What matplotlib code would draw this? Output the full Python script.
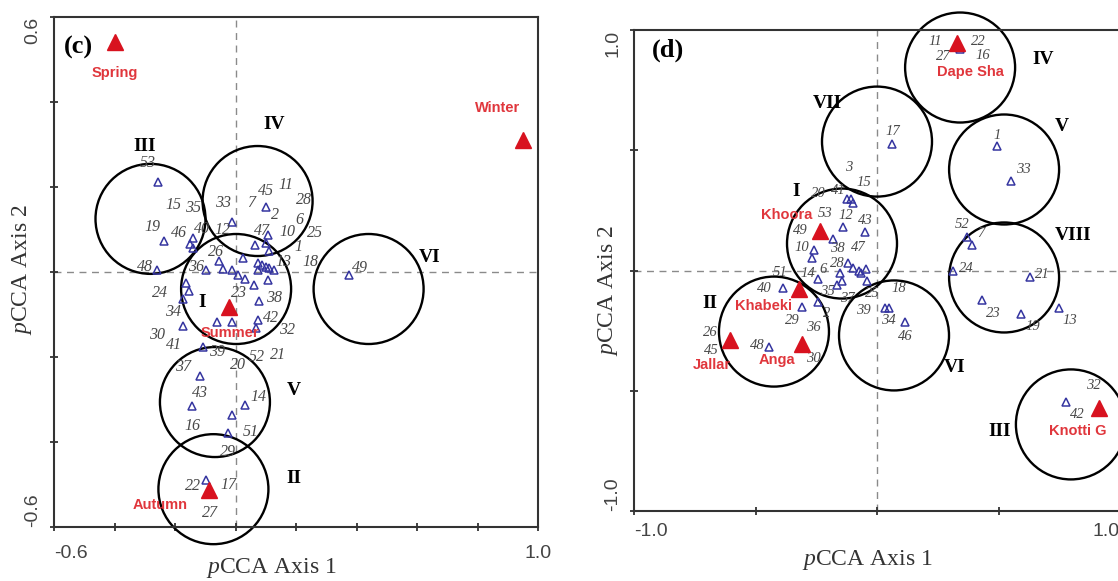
import numpy as np
import matplotlib
matplotlib.use("Agg")
import matplotlib.pyplot as plt
from matplotlib.patches import Ellipse

plt.rcParams['font.family'] = 'Liberation Serif'
plt.rcParams['mathtext.fontset'] = 'custom'
plt.rcParams['mathtext.rm'] = 'Liberation Serif'
plt.rcParams['mathtext.it'] = 'Liberation Serif:italic'

# ---------------- panel (c): seasons ----------------
c_site_x = [-0.255, -0.013, 0.102, -0.238, -0.142, -0.149, -0.139, 0.106, 0.102, 0.112,
            0.063, -0.258, -0.099, -0.053, -0.040, -0.013, 0.007, 0.026, 0.030, 0.073,
            0.076, 0.089, 0.102, 0.112, 0.126, 0.060, 0.109, 0.079, -0.162, -0.155,
            -0.172, -0.172, -0.060, -0.010, 0.076, 0.069, -0.106, -0.119, -0.145, 0.033,
            -0.010, -0.026, -0.096, 0.374]
c_site_y = [0.212, 0.118, 0.153, 0.073, 0.080, 0.066, 0.056, 0.087, 0.068, 0.049,
            0.064, 0.005, 0.005, 0.026, 0.007, 0.005, -0.007, 0.033, -0.016, 0.021,
            0.005, 0.016, 0.012, 0.009, 0.005, -0.031, -0.019, -0.068, -0.026, -0.045,
            -0.064, -0.127, -0.118, -0.118, -0.113, -0.132, -0.176, -0.245, -0.315, -0.313,
            -0.336, -0.379, -0.489, -0.007]

c_num = ['53', '15', '35', '19', '46', '40', '33', '7', '45', '11', '28', '2', '12', '13',
         '6', '10', '25', '47', '1', '18', '26', '36', '48', '24', '34', '30', '41', '23',
         '38', '42', '32', '39', '20', '52', '21', '37', '43', '14', '16', '51', '29', '22',
         '17', '27', '49']
c_num_x = [-0.291, -0.205, -0.139, -0.274, -0.188, -0.112, -0.040, 0.053, 0.102, 0.165,
           0.225, 0.129, -0.043, 0.159, 0.212, 0.172, 0.264, 0.086, 0.208, 0.248,
           -0.066, -0.132, -0.298, -0.251, -0.208, -0.258, -0.205, 0.010, 0.126, 0.116,
           0.172, -0.060, 0.007, 0.069, 0.139, -0.172, -0.119, 0.076, -0.142, 0.050,
           -0.026, -0.142, -0.023, -0.083, 0.413]
c_num_y = [0.256, 0.158, 0.151, 0.106, 0.092, 0.101, 0.162, 0.162, 0.191, 0.205,
           0.169, 0.134, 0.099, 0.024, 0.122, 0.094, 0.092, 0.096, 0.059, 0.024,
           0.047, 0.012, 0.012, -0.049, -0.094, -0.148, -0.172, -0.049, -0.061, -0.108,
           -0.136, -0.188, -0.219, -0.200, -0.195, -0.224, -0.285, -0.294, -0.362, -0.376,
           -0.424, -0.504, -0.501, -0.567, 0.009]

c_env = ['Spring', 'Winter', 'Summer', 'Autumn']
c_env_x = [-0.400, 0.952, -0.020, -0.086]
c_env_y = [0.541, 0.311, -0.082, -0.513]
c_env_lx = [-0.400, 0.866, -0.017, -0.248]
c_env_ly = [0.468, 0.386, -0.144, -0.548]

c_groups = ['I', 'II', 'III', 'IV', 'V', 'VI']
c_circle_x = [0.002, -0.073, -0.281, 0.073, -0.068, 0.440]
c_circle_y = [-0.040, -0.511, 0.125, 0.167, -0.306, -0.040]
c_group_lx = [-0.109, 0.192, -0.301, 0.129, 0.192, 0.641]
c_group_ly = [-0.071, -0.487, 0.296, 0.346, -0.278, 0.033]

# ---------------- panel (d): sites ----------------
d_site_x = [0.342, 0.062, 0.494, 0.551, 0.370, 0.391, 0.313, 0.630, 0.432, 0.593,
            0.749, 0.033, 0.049, 0.115, 0.778, -0.123, -0.107, -0.099, -0.140, -0.049,
            -0.181, -0.259, -0.267, -0.119, -0.099, -0.074, -0.066, -0.045, -0.041, -0.152,
            -0.144, -0.165, -0.243, -0.387, -0.309, -0.243, -0.444]
d_site_y = [0.919, 0.528, 0.516, 0.374, 0.141, 0.108, -0.004, -0.029, -0.121, -0.179,
            -0.154, -0.154, -0.154, -0.216, -0.545, 0.299, 0.299, 0.279, 0.179, 0.162,
            0.129, 0.087, 0.054, 0.033, 0.012, 0.000, -0.012, 0.008, -0.042, -0.012,
            -0.042, -0.062, -0.037, -0.071, -0.150, -0.133, -0.320]

d_num = ['11', '22', '27', '16', '17', '1', '33', '52', '7', '24', '21', '18', '25', '39',
         '34', '46', '23', '19', '13', '32', '42', '15', '3', '20', '41', '53', '12', '43',
         '49', '10', '38', '47', '28', '6', '14', '51', '40', '35', '37', '2', '29', '36',
         '26', '45', '48', '30']
d_num_x = [0.239, 0.416, 0.272, 0.436, 0.066, 0.494, 0.601, 0.350, 0.428, 0.366,
           0.679, 0.091, -0.021, -0.058, 0.045, 0.115, 0.477, 0.642, 0.794, 0.889,
           0.823, -0.053, -0.115, -0.243, -0.160, -0.214, -0.128, -0.049, -0.317, -0.309,
           -0.165, -0.078, -0.165, -0.222, -0.284, -0.399, -0.465, -0.206, -0.123, -0.206,
           -0.350, -0.263, -0.687, -0.683, -0.494, -0.263]
d_num_y = [0.952, 0.952, 0.890, 0.894, 0.578, 0.561, 0.420, 0.191, 0.154, 0.008,
           -0.017, -0.075, -0.096, -0.166, -0.208, -0.274, -0.179, -0.233, -0.208, -0.478,
           -0.599, 0.366, 0.428, 0.320, 0.333, 0.237, 0.229, 0.208, 0.166, 0.096,
           0.090, 0.096, 0.028, 0.004, -0.012, -0.008, -0.075, -0.087, -0.116, -0.179,
           -0.208, -0.237, -0.258, -0.333, -0.312, -0.366]

d_env = ['Dape Sha', 'Khoora', 'Khabeki', 'Jallar', 'Anga', 'Knotti G']
d_env_x = [0.329, -0.235, -0.321, -0.605, -0.309, 0.914]
d_env_y = [0.944, 0.166, -0.075, -0.291, -0.304, -0.570]
d_env_lx = [0.383, -0.370, -0.469, -0.679, -0.412, 0.827]
d_env_ly = [0.827, 0.229, -0.146, -0.395, -0.374, -0.669]

d_groups = ['I', 'II', 'III', 'IV', 'V', 'VI', 'VII', 'VIII']
d_circle_x = [-0.144, -0.424, 0.798, 0.342, 0.523, 0.070, 0.000, 0.523]
d_circle_y = [0.112, -0.254, -0.640, 0.844, 0.420, -0.270, 0.536, -0.029]
d_group_lx = [-0.333, -0.687, 0.506, 0.683, 0.761, 0.321, -0.206, 0.807]
d_group_ly = [0.328, -0.137, -0.669, 0.877, 0.599, -0.403, 0.694, 0.146]

FIG_W, FIG_H = 1118, 581
RED = '#d8121f'
RED_TXT = '#e0363c'
BLUE = '#3535a0'
NUM = '#484848'
SANS = 'Liberation Sans'

fig = plt.figure(figsize=(FIG_W / 100, FIG_H / 100), dpi=100)


def draw_panel(rect, xlim, ylim, xt, yt, site_x, site_y, num, num_x, num_y,
               env, env_x, env_y, env_lx, env_ly, groups, cx, cy, gx, gy, tag,
               num_size=11.5):
    ax = fig.add_axes(rect)
    ax.set_xlim(xlim)
    ax.set_ylim(ylim)

    # circles drawn round in pixel space
    r_px = 55
    sx = rect[2] * FIG_W / (xlim[1] - xlim[0])
    sy = rect[3] * FIG_H / (ylim[1] - ylim[0])
    for x, y in zip(cx, cy):
        ax.add_patch(Ellipse((x, y), 2 * r_px / sx, 2 * r_px / sy, fill=False,
                             ec='black', lw=1.7, clip_on=False, zorder=2))

    ax.axhline(0, color='#8a8a8a', lw=1, ls=(0, (5, 4)), zorder=1)
    ax.axvline(0, color='#8a8a8a', lw=1, ls=(0, (5, 4)), zorder=1)

    ax.plot(site_x, site_y, ls='none', marker='^', ms=5.5, mfc='none',
            mec=BLUE, mew=1.1, zorder=3)
    for t, x, y in zip(num, num_x, num_y):
        ax.text(x, y, t, fontsize=num_size, style='italic', color=NUM,
                ha='center', va='center', zorder=4)

    ax.plot(env_x, env_y, ls='none', marker='^', ms=11, color=RED, zorder=5)
    for t, x, y in zip(env, env_lx, env_ly):
        ax.text(x, y, t, fontsize=10.5, fontweight='bold', family=SANS,
                color=RED_TXT, ha='center', va='center', zorder=5)

    for t, x, y in zip(groups, gx, gy):
        ax.text(x, y, t, fontsize=14, fontweight='bold', ha='center',
                va='center', zorder=5)

    ax.text(tag[1], tag[2], tag[0], transform=ax.transAxes, fontsize=19,
            fontweight='bold', ha='center', va='center')

    ax.set_xticks(xt)
    ax.set_yticks(yt)
    ax.set_xticklabels([f'{xt[0]:.1f}'] + [''] * (len(xt) - 2) + [f'{xt[-1]:.1f}'])
    ax.set_yticklabels([f'{yt[0]:.1f}'] + [''] * (len(yt) - 2) + [f'{yt[-1]:.1f}'])
    ax.tick_params(direction='inout', length=6, width=1.3, color='#333333',
                   labelsize=14, labelcolor='#444444')
    for lab in ax.get_xticklabels() + ax.get_yticklabels():
        lab.set_family(SANS)
    for sp in ax.spines.values():
        sp.set_linewidth(1.5)
        sp.set_color('#333333')
    ax.set_xlabel('$p$CCA Axis 1', fontsize=17, color='#333333')
    ax.set_ylabel('$p$CCA Axis 2', fontsize=17, color='#333333')
    return ax


# Panel (c)
ax_c = draw_panel([54 / FIG_W, 1 - 527 / FIG_H, 484 / FIG_W, 510 / FIG_H],
                  (-0.6, 1.0), (-0.6, 0.6),
                  np.round(np.arange(-0.6, 1.01, 0.2), 1), np.round(np.arange(-0.6, 0.61, 0.2), 1),
                  c_site_x, c_site_y, c_num, c_num_x, c_num_y,
                  c_env, c_env_x, c_env_y, c_env_lx, c_env_ly,
                  c_groups, c_circle_x, c_circle_y, c_group_lx, c_group_ly,
                  ('(c)', 0.05, 0.941))
ax_c.tick_params(axis='x', pad=10)
ax_c.tick_params(axis='y', pad=6)
xl = ax_c.get_xticklabels()
xl[0].set_ha('left')
yl = ax_c.get_yticklabels()
for lab in yl:
    lab.set_rotation(90)
yl[0].set_va('bottom')
yl[-1].set_va('top')
ax_c.xaxis.set_label_coords(0.45, -0.08)
ax_c.xaxis.label.set_va('center')
ax_c.yaxis.set_label_coords(-0.066, 0.504)
ax_c.yaxis.label.set_va('center')

# Panel (d)
ax_d = draw_panel([634 / FIG_W, 1 - 511 / FIG_H, 486 / FIG_W, 481 / FIG_H],
                  (-1.0, 1.0), (-1.0, 1.0),
                  [-1.0, -0.5, 0.0, 0.5, 1.0], [-1.0, -0.5, 0.0, 0.5, 1.0],
                  d_site_x, d_site_y, d_num, d_num_x, d_num_y,
                  d_env, d_env_x, d_env_y, d_env_lx, d_env_ly,
                  d_groups, d_circle_x, d_circle_y, d_group_lx, d_group_ly,
                  ('(d)', 0.07, 0.958), num_size=10.5)
ax_d.tick_params(axis='x', pad=6)
ax_d.tick_params(axis='y', pad=6)
xl = ax_d.get_xticklabels()
xl[0].set_ha('left')
xl[-1].set_ha('right')
yl = ax_d.get_yticklabels()
for lab in yl:
    lab.set_rotation(90)
yl[0].set_va('bottom')
yl[-1].set_va('top')
ax_d.xaxis.set_label_coords(0.481, -0.102)
ax_d.xaxis.label.set_va('center')
ax_d.yaxis.set_label_coords(-0.0535, 0.459)
ax_d.yaxis.label.set_va('center')

fig.savefig('out.png', dpi=100)
